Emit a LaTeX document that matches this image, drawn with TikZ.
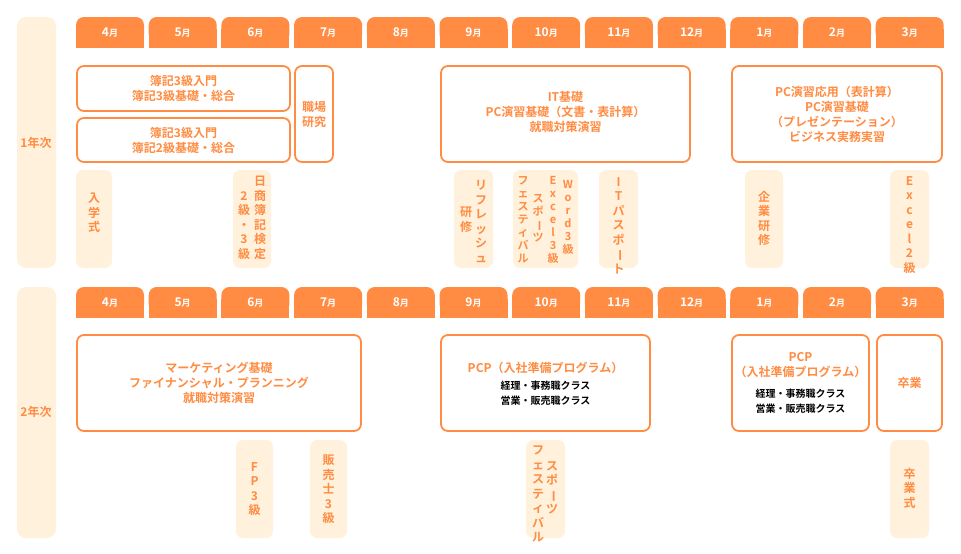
\documentclass[tikz,border=0pt]{standalone}
\usepackage{fontspec}
\newfontfamily\jp{Noto Sans CJK JP}[BoldFont={Noto Sans CJK JP Bold}]
\definecolor{org}{HTML}{FF8C42}
\definecolor{lt}{HTML}{FFF1DC}
\newcommand\vb{\rotatebox[origin=c]{-90}{ー}}
\tikzset{
 big/.style={draw=org,line width=1.8pt,fill=white,rounded corners=7pt},
 pale/.style={fill=lt,rounded corners=7pt},
 otext/.style={text=org,font=\jp\bfseries\fontsize{12}{15}\selectfont,align=center},
 vtext/.style={text=org,font=\jp\bfseries\fontsize{12}{14.5}\selectfont,align=center,anchor=north,inner sep=0pt},
 stext/.style={text=org,font=\jp\bfseries\fontsize{11}{13}\selectfont,align=center,anchor=north,inner sep=0pt},
 btext/.style={text=black,font=\jp\bfseries\fontsize{10}{15}\selectfont,align=center},
}
\begin{document}
\begin{tikzpicture}[x=1pt,y=-1pt]
\useasboundingbox (0,0) rectangle (961,554);
% year bars
\fill[lt,rounded corners=9pt] (17,17) rectangle (56,268);
\fill[lt,rounded corners=9pt] (17,287) rectangle (56,538);
\node[otext] (y1) at (36,143) {1年次};
\node[otext] (y2) at (36,412) {2年次};
% tabs
\foreach \m [count=\i from 0] in {4,5,6,7,8,9,10,11,12,1,2,3}{
 \pgfmathsetmacro\xa{76+\i*72.7}
 \foreach \ya in {17,287}{
  \fill[org,rounded corners=8pt] (\xa,\ya) rectangle ++(68,25);
  \fill[org] (\xa,\ya+12) rectangle ++(68,19);
  \node[text=white,font=\jp\bfseries] at (\xa+34,\ya+15.5) {\fontsize{12}{12}\selectfont\m\fontsize{9}{9}\selectfont 月};
 }
}
% year 1 boxes
\draw[big] (77,66) rectangle (290,111); \node[otext] (b1) at (183.5,88.5) {簿記3級入門\\簿記3級基礎・総合};
\draw[big] (77,118) rectangle (290,162); \node[otext] (b2) at (183.5,140) {簿記3級入門\\簿記2級基礎・総合};
\draw[big] (295,66) rectangle (333,162); \node[otext] (b3) at (314,114) {職場\\研究};
\draw[big] (441,66) rectangle (690,162); \node[otext] (b4) at (565.5,112) {IT基礎\\PC演習基礎（文書・表計算）\\就職対策演習};
\draw[big] (732,66) rectangle (942,162); \node[otext] (b5) at (837,114) {PC演習応用（表計算）\\PC演習基礎\\（プレゼンテーション）\\ビジネス実務実習};
% year 1 pale
\fill[pale] (76,170) rectangle (112,268); \node[vtext] (p1) at (94,193) {入\\学\\式};
\fill[pale] (233,170) rectangle (271,268);
\node[vtext] (p2a) at (260,176) {日\\商\\簿\\記\\検\\定};
\node[vtext] (p2b) at (244,191) {2\\級\\・\\3\\級};
\fill[pale] (454,170) rectangle (493,268);
\node[vtext] (p3a) at (481,180) {リ\\フ\\レ\\ッ\\シ\\ュ};
\node[vtext] (p3b) at (466,207) {研\\修};
\fill[pale] (513,170) rectangle (578,268);
\node[stext] (p4a) at (568,180) {W\\o\\r\\d\\3\\級};
\node[stext] (p4b) at (553,176) {E\\x\\c\\e\\l\\3\\級};
\node[stext] (p4c) at (538,194) {ス\\ポ\\\vb\\ツ};
\node[stext] (p4d) at (523,176) {フ\\ェ\\ス\\テ\\ィ\\バ\\ル};
\fill[pale] (599,170) rectangle (638,268);
\node[vtext] (p5) at (618.5,177) {I\\T\\パ\\ス\\ポ\\\vb\\ト};
\fill[pale] (745,170) rectangle (783,268); \node[vtext] (p6) at (764,191) {企\\業\\研\\修};
\fill[pale] (890,170) rectangle (929,268); \node[vtext] (p7) at (909.5,176) {E\\x\\c\\e\\l\\2\\級};
% year 2 boxes
\draw[big] (77,335) rectangle (361,431); \node[otext] (c1) at (219,383) {マーケティング基礎\\ファイナンシャル・プランニング\\就職対策演習};
\draw[big] (441,335) rectangle (650,431);
\node[otext] (c2) at (545.5,368) {PCP（入社準備プログラム）};
\node[btext] (c2b) at (545.5,393) {経理・事務職クラス\\営業・販売職クラス};
\draw[big] (732,335) rectangle (869,431);
\node[otext] (c3) at (800.5,365) {PCP\\（入社準備プログラム）};
\node[btext] (c3b) at (800.5,401) {経理・事務職クラス\\営業・販売職クラス};
\draw[big] (877,335) rectangle (942,431); \node[otext] (c4) at (909.5,383) {卒業};
% year 2 pale
\fill[pale] (236,440) rectangle (273,538); \node[vtext] (q1) at (254.5,462) {F\\P\\3\\級};
\fill[pale] (310,440) rectangle (347,538); \node[vtext] (q2) at (328.5,455) {販\\売\\士\\3\\級};
\fill[pale] (526,440) rectangle (565,538);
\node[vtext] (q3a) at (552,461) {ス\\ポ\\\vb\\ツ};
\node[vtext] (q3b) at (538,446) {フ\\ェ\\ス\\テ\\ィ\\バ\\ル};
\fill[pale] (890,440) rectangle (929,538); \node[vtext] (q4) at (909.5,468) {卒\\業\\式};
\end{tikzpicture}
\end{document}
